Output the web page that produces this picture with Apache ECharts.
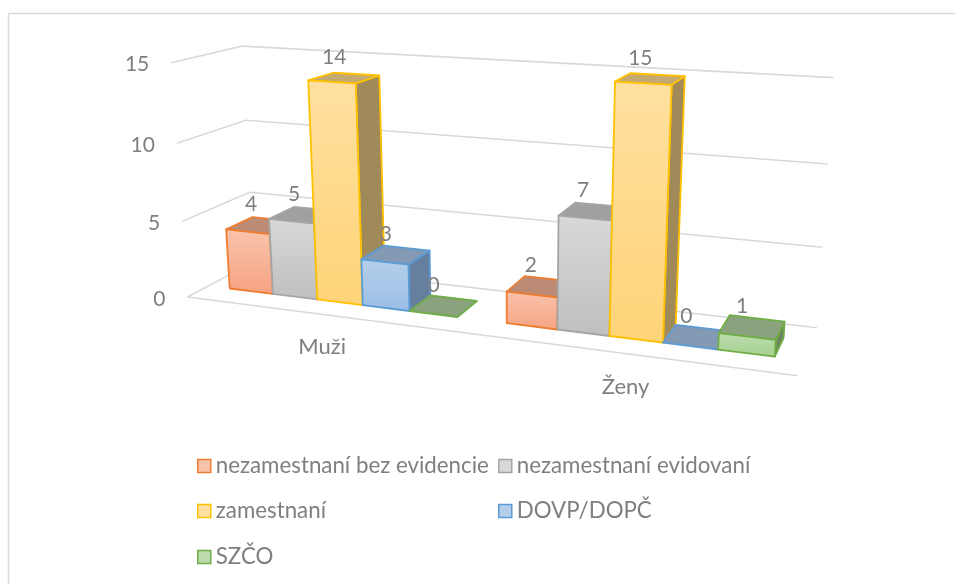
<!DOCTYPE html>
<html><head><meta charset="utf-8">
<style>html,body{margin:0;padding:0;background:#fff}#c{width:955px;height:584px}</style>
<script src="https://cdn.jsdelivr.net/npm/echarts@6/dist/echarts.min.js"></script>
</head><body><div id="c"></div>
<script>
const categories = ['Muži', 'Ženy'];
const yTicks = [0, 5, 10, 15];
const seriesNames = ['nezamestnaní bez evidencie', 'nezamestnaní evidovaní', 'zamestnaní', 'DOVP/DOPČ', 'SZČO'];
const nezamestnaniBezEvidencie = [4, 2];
const nezamestnaniEvidovani = [5, 7];
const zamestnani = [14, 15];
const dovpDopc = [3, 0];
const szco = [0, 1];
const seriesValues = [nezamestnaniBezEvidencie, nezamestnaniEvidovani, zamestnani, dovpDopc, szco];

const palette = [
  {stroke:'#ed7d31', front:['#f9c3ab','#f6a382'], top:'#bc8b76', side:'#a5755e'},
  {stroke:'#a5a5a5', front:['#d8d8d8','#bfbfbf'], top:'#a0a0a0', side:'#8a8a8a'},
  {stroke:'#ffc000', front:['#ffe0a0','#ffd478'], top:'#c4a972', side:'#a08a5a'},
  {stroke:'#5b9bd5', front:['#b5cfeb','#9bbde5'], top:'#8499b3', side:'#667f9f'},
  {stroke:'#70ad47', front:['#bcdcaf','#a5d08e'], top:'#8aa37e', side:'#6c875a'}
];
const gapWidth = 1.0, depthFront = 0.3, depthBack = 0.7;
const FONT = 'Lato';
const TXT = '#7f7f7f';

// Perspective camera: homography fitted to the frame of the 3D box: [u, v(0..1), depth] -> screen
const cameraAnchors = [
  [0,0,0,188,297],[1,0,0,798,376],[0,0,1,255,265],[1,0,1,817,327],
  [0,1,0,172,63],[0,1,1,241,45],[1,1,1,833,78],
  [0,1/3,0,182,221],[0,2/3,0,177,143],[0,1/3,1,250,192],[0,2/3,1,246,120],
  [1,1/3,1,822,247],[1,2/3,1,828,163],
  [.0417,0,.3,229,288],[.0417,4/15,.3,226,229],[.0417,4/15,.7,252,217],
  [.4583,0,.3,457,317],[.4583,0,.7,477,300],[.375,0,.7,431,296],
  [.5417,0,.3,507,323],[.5417,2/15,.3,507,292],[.5417,2/15,.7,524,276],
  [.9583,0,.3,775,357],[.9583,1/15,.3,775,341],[.9583,1/15,.7,785,321],
  [.7083,1,.3,615,82],[.7083,0,.3,609,336],[.7917,1,.3,672,85],[.7917,0,.3,663,343],
  [.7917,1,.7,685,77],[.7083,1,.7,631,73],
  [.2083,14/15,.3,308,81],[.2083,0,.3,317,299],[.2917,14/15,.3,356,83],[.2917,0,.3,362,304],
  [.2917,14/15,.7,379,76],[.2083,14/15,.7,333,73]
];
function fitCamera(pts){
  const n=11, A=Array.from({length:n},()=>new Array(n+1).fill(0));
  const add=(r,b)=>{for(let i=0;i<n;i++){for(let j=0;j<n;j++)A[i][j]+=r[i]*r[j];A[i][n]+=r[i]*b;}};
  pts.forEach(([X,Y,Z,x,y])=>{
    add([X,Y,Z,1,0,0,0,0,-x*X,-x*Y,-x*Z],x);
    add([0,0,0,0,X,Y,Z,1,-y*X,-y*Y,-y*Z],y);
  });
  for(let i=0;i<n;i++){
    let m=i;for(let k=i+1;k<n;k++)if(Math.abs(A[k][i])>Math.abs(A[m][i]))m=k;
    [A[i],A[m]]=[A[m],A[i]];
    for(let k=0;k<n;k++){if(k===i)continue;const f=A[k][i]/A[i][i];for(let j=i;j<=n;j++)A[k][j]-=f*A[i][j];}
  }
  return A.map((r,i)=>r[n]/r[i]);
}
const cam = fitCamera(cameraAnchors);
function project(u,v,d){
  const w=cam[8]*u+cam[9]*v+cam[10]*d+1;
  return [(cam[0]*u+cam[1]*v+cam[2]*d+cam[3])/w,(cam[4]*u+cam[5]*v+cam[6]*d+cam[7])/w];
}
function toUV(coord, rect){
  return [(coord[0]-rect.x)/rect.width, (rect.y+rect.height-coord[1])/rect.height];
}
const lineStyle={stroke:'#d9d9d9',lineWidth:1.6,fill:null};
function seg(a,b){return {type:'line',shape:{x1:a[0],y1:a[1],x2:b[0],y2:b[1]},style:lineStyle,silent:true};}

function renderWall(params,api){
  const rect=params.coordSys, tick=api.value(0);
  const v=toUV(api.coord([0,tick]),rect)[1];
  const a=project(0,v,0), b=project(0,v,1), c=project(1,v,1);
  const ch=[seg(a,b),seg(b,c),{type:'text',style:{text:String(tick),x:a[0]-22,y:a[1]+2,align:'right',verticalAlign:'middle',font:'21px '+FONT,fill:TXT}}];
  if(tick===0) ch.push(seg(a,project(1,0,0)));
  return {type:'group',children:ch};
}
function renderCategory(params,api){
  const rect=params.coordSys, i=api.value(0);
  const u=toUV(api.coord([i,0]),rect)[0];
  const p=project(u,0,0);
  return {type:'text',style:{text:categories[i],x:p[0]+0.5,y:p[1]+33,align:'center',verticalAlign:'middle',font:'22px '+FONT,fill:TXT}};
}
function makeBarRenderer(s){
  const c=palette[s];
  return function(params,api){
    const rect=params.coordSys, i=api.value(0), val=api.value(1);
    const [uc,v]=toUV(api.coord([i,val]),rect);
    const band=api.size([1,0])[0]/rect.width;
    const w=band/(5+gapWidth);
    const u0=uc-band/2+w*gapWidth/2+s*w, u1=u0+w, d0=depthFront, d1=depthBack;
    const P=(u,vv,d)=>project(u,vv,d);
    const st=(fill)=>({fill,stroke:c.stroke,lineWidth:1.8,lineJoin:'round'});
    const poly=(pts,fill)=>({type:'polygon',shape:{points:pts},style:st(fill),silent:true});
    const ch=[];
    if(val>0) ch.push(poly([P(u1,0,d0),P(u1,0,d1),P(u1,v,d1),P(u1,v,d0)],c.side));
    ch.push(poly([P(u0,v,d0),P(u1,v,d0),P(u1,v,d1),P(u0,v,d1)],c.top));
    if(val>0) ch.push(poly([P(u0,0,d0),P(u1,0,d0),P(u1,v,d0),P(u0,v,d0)],
      {type:'linear',x:0,y:0,x2:0,y2:1,colorStops:[{offset:0,color:c.front[0]},{offset:1,color:c.front[1]}]}));
    const t=P((u0+u1)/2,v,.5);
    ch.push({type:'text',z2:100,style:{text:String(val),x:t[0]-10,y:t[1]-21,align:'center',verticalAlign:'middle',font:'21px '+FONT,fill:TXT}});
    return {type:'group',children:ch};
  };
}
const legendPos=[[197,455],[498,455],[197,500],[498,500],[197,546]];
const chart=echarts.init(document.getElementById('c'),null,{renderer:'canvas'});
chart.setOption({
  animation:false,
  backgroundColor:'#fff',
  graphic:[
    {type:'line',silent:true,shape:{x1:8.5,y1:13.5,x2:955,y2:13.5},style:{stroke:'#d9d9d9',lineWidth:1.6}},
    {type:'line',silent:true,shape:{x1:8.5,y1:13.5,x2:8.5,y2:584},style:{stroke:'#d9d9d9',lineWidth:1.6}}
  ],
  grid:{left:100,right:100,top:100,bottom:100,show:false},
  xAxis:{type:'category',data:categories,show:false},
  yAxis:{type:'value',min:0,max:15,interval:5,show:false},
  legend:seriesNames.map((n,k)=>({
    left:legendPos[k][0],top:legendPos[k][1],padding:0,itemWidth:13,itemHeight:13,selectedMode:false,
    icon:'rect',
    textStyle:{color:TXT,fontFamily:FONT,fontSize:22.3,lineHeight:13,height:13,verticalAlign:'middle'},
    data:[{name:n,icon:'rect',itemStyle:{color:palette[k].front[0],borderColor:palette[k].stroke,borderWidth:1.5}}]
  })),
  series:[
    {type:'custom',name:'walls',silent:true,coordinateSystem:'cartesian2d',encode:{y:0},data:yTicks.map(t=>[t]),renderItem:renderWall,clip:false},
    {type:'custom',name:'cats',silent:true,coordinateSystem:'cartesian2d',encode:{x:0},data:categories.map((c,i)=>[i]),renderItem:renderCategory,clip:false}
  ].concat(seriesNames.map((n,s)=>({
    type:'custom',name:n,silent:true,coordinateSystem:'cartesian2d',encode:{x:0,y:1},
    itemStyle:{color:palette[s].front[0]},
    data:seriesValues[s].map((v,i)=>[i,v]),renderItem:makeBarRenderer(s),clip:false
  })))
});
</script></body></html>
